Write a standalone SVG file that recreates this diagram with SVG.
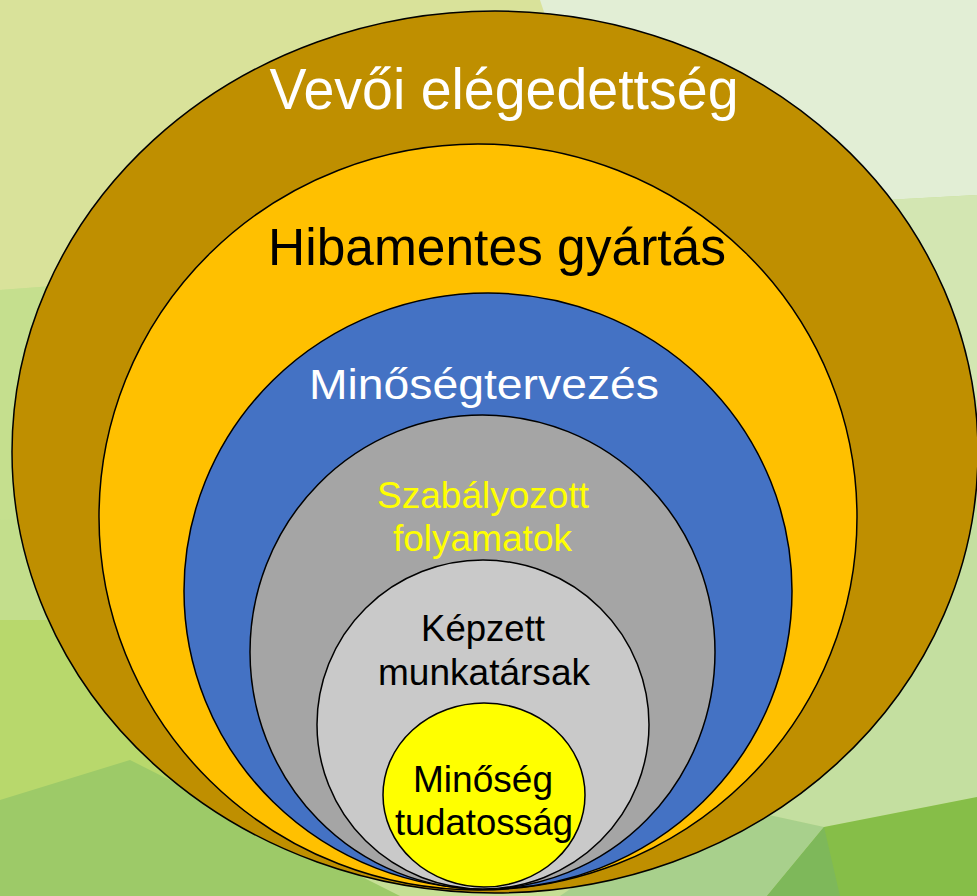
<svg xmlns="http://www.w3.org/2000/svg" width="977" height="896" viewBox="0 0 977 896">
<style>
.ring{stroke:#000;stroke-width:1.5}
text{font-family:"Liberation Sans",Arial,sans-serif;text-anchor:middle}
</style>
<g id="background">
<rect x="0" y="0" width="977" height="896" fill="#C6DF95"/>
<polygon points="0,0 560,0 600,120 400,260 0,290" fill="#D9E29A"/>
<polygon points="540,0 977,0 977,195 700,210 560,60" fill="#E2EED5"/>
<polygon points="700,210 977,195 977,420 760,300" fill="#D3E6B2"/>
<polygon points="0,290 400,260 300,500 0,520" fill="#C5DF8E"/>
<polygon points="0,520 300,500 130,620 0,620" fill="#C3DE8C"/>
<polygon points="0,620 130,620 0,700" fill="#C0DC86"/>
<polygon points="0,620 130,620 300,780 160,900 0,896" fill="#B8D86C"/>
<polygon points="0,800 130,760 400,896 0,896" fill="#9DCA68"/>
<polygon points="760,420 977,400 977,797 824,827 700,800" fill="#C4DFA0"/>
<polygon points="700,800 824,827 767,896 560,896" fill="#A8D08C"/>
<polygon points="824,827 977,797 977,896 767,896" fill="#86BE48"/>
<polygon points="824,827 767,896 840,896" fill="#7EB85A"/>
</g>
<g id="node-vevoi">
<ellipse class="ring" cx="495" cy="452" rx="483" ry="441" fill="#BF8F00"/>
<text x="504" y="109" font-size="57" fill="#FFFFFF" textLength="469" lengthAdjust="spacingAndGlyphs">Vevői elégedettség</text>
</g>
<g id="node-hibamentes">
<ellipse class="ring" cx="478" cy="517" rx="379" ry="373" fill="#FFC000"/>
<text x="497" y="265" font-size="51" fill="#000000" textLength="458" lengthAdjust="spacingAndGlyphs">Hibamentes gyártás</text>
</g>
<g id="node-minosegtervezes">
<ellipse class="ring" cx="488" cy="591" rx="304" ry="298" fill="#4472C4"/>
<text x="484" y="399" font-size="42" fill="#FFFFFF" textLength="350" lengthAdjust="spacingAndGlyphs">Minőségtervezés</text>
</g>
<g id="node-szabalyozott">
<ellipse class="ring" cx="482.5" cy="652" rx="232.5" ry="237" fill="#A5A5A5"/>
<text x="483" y="508" font-size="36" fill="#FFFF00" textLength="212" lengthAdjust="spacingAndGlyphs">Szabályozott</text>
<text x="482.5" y="551" font-size="36" fill="#FFFF00" textLength="179" lengthAdjust="spacingAndGlyphs">folyamatok</text>
</g>
<g id="node-kepzett">
<ellipse class="ring" cx="483" cy="724.5" rx="166" ry="164.5" fill="#C9C9C9"/>
<text x="483" y="641" font-size="37" fill="#000000" textLength="124" lengthAdjust="spacingAndGlyphs">Képzett</text>
<text x="484" y="685" font-size="37" fill="#000000" textLength="212" lengthAdjust="spacingAndGlyphs">munkatársak</text>
</g>
<g id="node-tudatossag">
<ellipse class="ring" cx="484" cy="795" rx="101" ry="92" fill="#FFFF00"/>
<text x="483" y="792" font-size="37" fill="#000000" textLength="140" lengthAdjust="spacingAndGlyphs">Minőség</text>
<text x="484" y="835" font-size="37" fill="#000000" textLength="178" lengthAdjust="spacingAndGlyphs">tudatosság</text>
</g>
<g id="connectors"/>
</svg>
